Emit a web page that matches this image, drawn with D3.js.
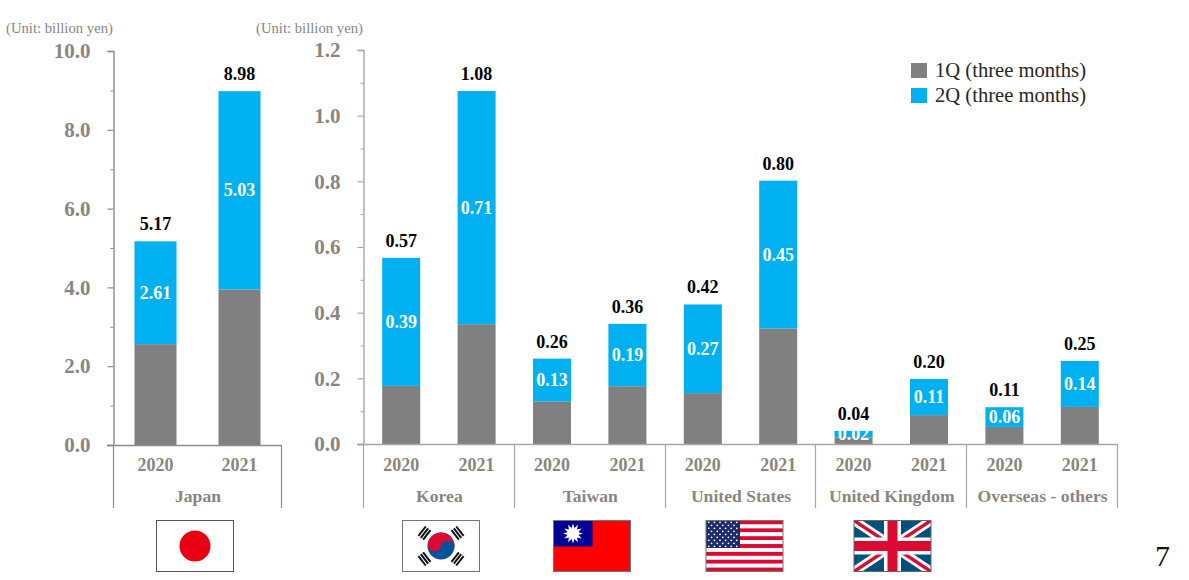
<!DOCTYPE html>
<html><head><meta charset="utf-8">
<script src="https://cdn.jsdelivr.net/npm/d3@7"></script>
<style>
html,body{margin:0;padding:0;background:#fff;overflow:hidden}
svg{display:block}
text{font-family:"Liberation Serif",serif}
.b{font-weight:700}
</style></head><body>
<svg id="c" width="1189" height="580"></svg>
<script>
const seriesNames = ["1Q (three months)", "2Q (three months)"];
const years = ["2020", "2021"];
const leftGroups = ["Japan"];
const rightGroups = ["Korea", "Taiwan", "United States", "United Kingdom", "Overseas - others"];
const japanQ1 = [2.56, 3.95];
const japanQ2 = [2.61, 5.03];
const japanTotal = [5.17, 8.98];
const overseasQ1 = [0.177, 0.365, 0.13, 0.176, 0.155, 0.352, 0.02, 0.088, 0.052, 0.113];
const overseasQ2 = [0.39, 0.71, 0.13, 0.19, 0.27, 0.45, 0.02, 0.11, 0.06, 0.14];
const overseasTotal = [0.57, 1.08, 0.26, 0.36, 0.42, 0.80, 0.04, 0.20, 0.11, 0.25];
const leftTicks = [0, 2, 4, 6, 8, 10];
const leftMinor = [1, 3, 5, 7, 9];
const rightTicks = [0, 0.2, 0.4, 0.6, 0.8, 1.0, 1.2];
const rightMinor = [0.1, 0.3, 0.5, 0.7, 0.9, 1.1];
const unitLabel = "(Unit: billion yen)";
const pageNumber = "7";

const Q1 = "#808080", Q2 = "#00B0F0", TXT = "#8a8580";
const svg = d3.select("#c");

function panel(o) {
  const keys = o.groups.flatMap(g => years.map(y => g + "|" + y));
  const x = d3.scaleBand().domain(keys).range([o.x0, o.x1]).paddingInner(o.pi).paddingOuter(o.pi / 2);
  const y = d3.scaleLinear().domain([0, o.max]).range([o.y0, o.y1]);
  const g = svg.append("g");
  const rows = keys.map((k, i) => ({k, q1: o.q1[i], q2: o.q2[i], t: o.tot[i]}));

  // bars
  g.selectAll(".q1").data(rows).join("rect")
    .attr("x", d => x(d.k) + .5).attr("width", x.bandwidth())
    .attr("y", d => y(d.q1)).attr("height", d => y(0) - y(d.q1)).attr("fill", Q1);
  g.selectAll(".q2").data(rows).join("rect")
    .attr("x", d => x(d.k) + .5).attr("width", x.bandwidth())
    .attr("y", d => y(d.q1 + d.q2)).attr("height", d => y(d.q1) - y(d.q1 + d.q2)).attr("fill", Q2);

  // value labels
  g.selectAll(".in").data(rows).join("text").attr("class", "b")
    .attr("x", d => x(d.k) + x.bandwidth() / 2 + .5)
    .attr("y", d => (y(d.q1) + y(d.q1 + d.q2)) / 2 + 6)
    .attr("text-anchor", "middle").attr("font-size", 18).attr("fill", "#fff")
    .text(d => d.q2.toFixed(2));
  g.selectAll(".tot").data(rows).join("text").attr("class", "b")
    .attr("x", d => x(d.k) + x.bandwidth() / 2 + .5)
    .attr("y", d => y(d.q1 + d.q2) - 11)
    .attr("text-anchor", "middle").attr("font-size", 18).attr("fill", "#000")
    .text(d => d.t.toFixed(2));

  // y axis
  const major = d3.axisLeft(y).tickValues(o.ticks).tickFormat(d3.format(".1f")).tickSize(6).tickPadding(o.pad);
  const ga = g.append("g").attr("transform", `translate(${o.x0 + .5},0)`).call(major);
  ga.select(".domain").attr("stroke", o.line).attr("stroke-width", 1.4);
  ga.selectAll(".tick line").attr("stroke", o.line).attr("stroke-width", 1.2);
  ga.selectAll("text").attr("class", "b").attr("font-size", 21).attr("fill", TXT)
    .attr("font-family", '"Liberation Serif",serif');
  const minor = d3.axisLeft(y).tickValues(o.minor).tickFormat("").tickSize(3).tickSizeOuter(0);
  const gm = g.append("g").attr("transform", `translate(${o.x0 + .5},0)`).call(minor);
  gm.select(".domain").remove();
  gm.selectAll(".tick line").attr("stroke", o.line);

  // baseline and group separators
  g.append("line").attr("x1", o.x0 - 6).attr("x2", o.x1 + .5).attr("y1", y(0) + .5).attr("y2", y(0) + .5)
    .attr("stroke", o.line).attr("stroke-width", 1.3);
  const step = (o.x1 - o.x0) / o.groups.length;
  d3.range(o.groups.length + 1).forEach(i => {
    const px = Math.round(o.x0 + i * step) + .5;
    g.append("line").attr("x1", px).attr("x2", px).attr("y1", y(0)).attr("y2", 508)
      .attr("stroke", o.line).attr("stroke-width", 1.2);
  });

  // category labels
  g.selectAll(".yr").data(keys).join("text").attr("class", "b")
    .attr("x", k => x(k) + x.bandwidth() / 2 + .5).attr("y", 471)
    .attr("text-anchor", "middle").attr("font-size", 18).attr("fill", TXT)
    .text(k => k.split("|")[1]);
  g.selectAll(".grp").data(o.groups).join("text").attr("class", "b")
    .attr("x", (d, i) => o.x0 + (i + .5) * step + 1).attr("y", 502)
    .attr("text-anchor", "middle").attr("font-size", 17.6).attr("fill", TXT)
    .text(d => d);

  svg.append("text").attr("x", o.unitX).attr("y", 33).attr("font-size", 14.7).attr("fill", TXT).text(unitLabel);
}

panel({groups: leftGroups, q1: japanQ1, q2: japanQ2, tot: japanTotal, max: 10, ticks: leftTicks, minor: leftMinor,
  x0: 113, x1: 281, y0: 445, y1: 51, pi: .5, pad: 17, line: "#8c8c8c", unitX: 6});
panel({groups: rightGroups, q1: overseasQ1, q2: overseasQ2, tot: overseasTotal, max: 1.2, ticks: rightTicks, minor: rightMinor,
  x0: 363, x1: 1117, y0: 444, y1: 50, pi: .496, pad: 17, line: "#a6a6a6", unitX: 256});

// legend
const lg = svg.append("g");
seriesNames.forEach((n, i) => {
  lg.append("rect").attr("x", 911).attr("y", 63 + i * 25).attr("width", 16).attr("height", 15).attr("fill", i ? Q2 : Q1);
  lg.append("text").attr("x", 935).attr("y", 77 + i * 25).attr("font-size", 20.6).attr("fill", "#262626").text(n);
});

svg.append("text").attr("x", 1155).attr("y", 566).attr("font-size", 30).attr("fill", "#111").text(pageNumber);

// flags (decoration)
const W = 77, H = 51, TOP = 520.5;
function flag(left, draw, border) {
  const f = svg.append("g").attr("transform", `translate(${left},${TOP})`);
  const cid = "clip" + String(left).replace(".", "_");
  f.append("clipPath").attr("id", cid).append("rect").attr("width", W).attr("height", H);
  f.append("rect").attr("width", W).attr("height", H).attr("fill", "#fff");
  const inner = f.append("g").attr("clip-path", `url(#${cid})`);
  draw(inner);
  f.append("rect").attr("width", W).attr("height", H).attr("fill", "none").attr("stroke", border).attr("stroke-width", 1);
}
flag(156.5, g => {
  g.append("circle").attr("cx", 38.5).attr("cy", 25.5).attr("r", 15.5).attr("fill", "#E60012");
}, "#555");
flag(402.5, g => {
  const cx = 38.5, cy = 25.5, r = 13.5;
  g.append("circle").attr("cx", cx).attr("cy", cy).attr("r", r).attr("fill", "#00529B");
  g.append("path").attr("fill", "#DC0A32").attr("transform", `translate(${cx},${cy}) rotate(12)`)
    .attr("d", `M${-r},0 A${r},${r} 0 0 1 ${r},0 A${r/2},${r/2} 0 0 0 0,0 A${r/2},${r/2} 0 0 1 ${-r},0 Z`);
  [-52, 52, 128, -128].forEach(a => {
    const t = g.append("g").attr("transform", `translate(${cx},${cy}) rotate(${a})`);
    [-25, -22, -19].forEach(yy => t.append("rect").attr("x", -6).attr("y", yy).attr("width", 12).attr("height", 2).attr("fill", "#111"));
  });
}, "#777");
flag(553.5, g => {
  g.append("rect").attr("width", W).attr("height", H).attr("fill", "#FE0000");
  g.append("rect").attr("width", 39).attr("height", 26).attr("fill", "#000095");
  const s = g.append("g").attr("transform", "translate(19.5,13)");
  d3.range(12).forEach(i => s.append("path").attr("d", "M-1.6,-5 L0,-10 L1.6,-5 Z").attr("fill", "#fff").attr("transform", `rotate(${i * 30})`));
  s.append("circle").attr("r", 5.6).attr("fill", "#fff");
}, "#777");
flag(706, g => {
  d3.range(13).forEach(i => g.append("rect").attr("y", i * H / 13).attr("width", W).attr("height", H / 13 + .2)
    .attr("fill", i % 2 ? "#fff" : "#DC0A32"));
  g.append("rect").attr("width", 34).attr("height", 27.5).attr("fill", "#1A2A6C");
  d3.range(9).forEach(r => d3.range(r % 2 ? 5 : 6).forEach(c =>
    g.append("circle").attr("cx", (r % 2 ? 5.6 : 2.8) + c * 5.6).attr("cy", 1.8 + r * 3).attr("r", .9).attr("fill", "#fff")));
}, "#777");
flag(854, g => {
  g.append("rect").attr("width", W).attr("height", H).attr("fill", "#00507F");
  [[0, 0, W, H], [W, 0, 0, H]].forEach(([a, b, c, d]) => {
    g.append("line").attr("x1", a).attr("y1", b).attr("x2", c).attr("y2", d).attr("stroke", "#fff").attr("stroke-width", 9);
    g.append("line").attr("x1", a).attr("y1", b).attr("x2", c).attr("y2", d).attr("stroke", "#DC0A32").attr("stroke-width", 3.5);
  });
  g.append("rect").attr("x", 30).attr("width", 17).attr("height", H).attr("fill", "#fff");
  g.append("rect").attr("y", 17).attr("width", W).attr("height", 17).attr("fill", "#fff");
  g.append("rect").attr("x", 33.5).attr("width", 10).attr("height", H).attr("fill", "#DC0A32");
  g.append("rect").attr("y", 20.5).attr("width", W).attr("height", 10).attr("fill", "#DC0A32");
}, "#666");
</script>
</body></html>
